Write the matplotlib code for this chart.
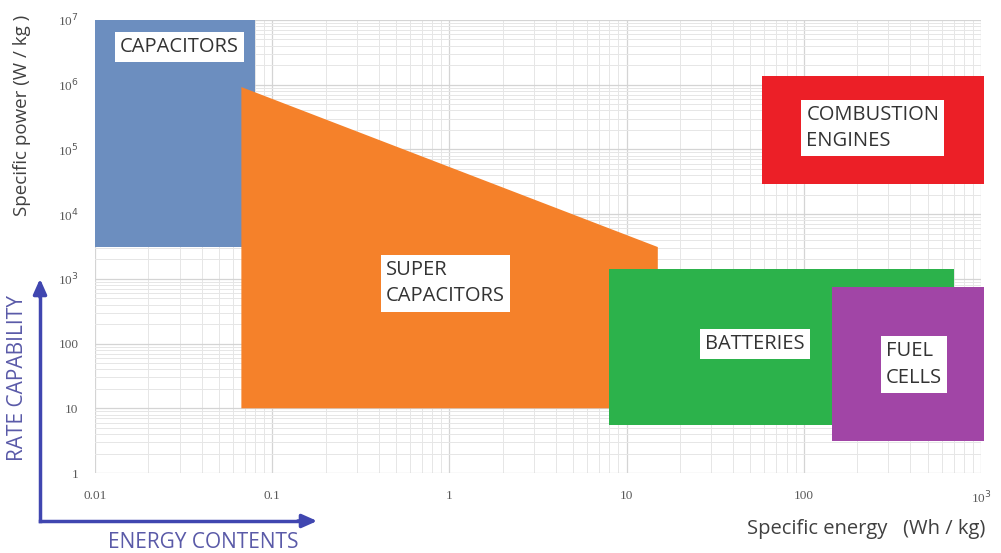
import matplotlib.pyplot as plt
from matplotlib.patches import Polygon, Rectangle

# Ragone-type chart: energy (Wh/kg) vs power (W/kg) regions
names = ["CAPACITORS", "SUPER\nCAPACITORS", "BATTERIES", "FUEL\nCELLS", "COMBUSTION\nENGINES"]
colors = ["#6c8ebf", "#f5812a", "#2cb24b", "#a145a6", "#ec1f27"]

# rectangles: (x0, x1, y0, y1)
capacitors = (0.01, 0.08, 3.1e3, 1e7)
batteries = (8, 700, 5.5, 1.4e3)
fuel_cells = (145, 1040, 3.1, 750)
combustion = (58, 1040, 2.9e4, 1.36e6)
# super capacitors polygon corners (energy, power)
super_x = [0.067, 0.067, 15, 15]
super_y = [10, 9.2e5, 3.1e3, 10]

x_ticks = [0.01, 0.1, 1, 10, 100, 1000]
x_labels = ["0.01", "0.1", "1", "10", "100", "10$^3$"]
y_ticks = [1, 10, 100, 1e3, 1e4, 1e5, 1e6, 1e7]
y_labels = ["1", "10", "100", "10$^3$", "10$^4$", "10$^5$", "10$^6$", "10$^7$"]

fig = plt.figure(figsize=(10.01, 5.53), dpi=100)
ax = fig.add_axes([95 / 1001, 80 / 553, 886 / 1001, 453 / 553])
ax.set_xscale("log")
ax.set_yscale("log")
ax.set_xlim(0.01, 1000)
ax.set_ylim(1, 1e7)
ax.grid(True, which="major", color="#d4d4d4", lw=0.9)
ax.grid(True, which="minor", color="#e6e6e6", lw=0.7)
ax.set_axisbelow(True)
for s in ax.spines.values():
    s.set_visible(False)
ax.tick_params(which="both", length=0, colors="#595959", labelsize=9.5, pad=12)
ax.set_xticks(x_ticks)
ax.set_xticklabels(x_labels, family="Liberation Serif")
ax.set_yticks(y_ticks)
ax.set_yticklabels(y_labels, family="Liberation Serif")


def rect(r, c):
    x0, x1, y0, y1 = r
    ax.add_patch(Rectangle((x0, y0), x1 - x0, y1 - y0, color=c, lw=0, clip_on=False))


rect(capacitors, colors[0])
ax.add_patch(Polygon(list(zip(super_x, super_y)), closed=True, color=colors[1], lw=0))
rect(batteries, colors[2])
rect(fuel_cells, colors[3])
rect(combustion, colors[4])

box = dict(facecolor="white", edgecolor="none", boxstyle="square,pad=0.25")
txt = dict(color="#333333", fontsize=14.5, family="Open Sans", ha="center", va="center",
           multialignment="left", bbox=box, linespacing=1.45)
label_pos = [(0.03, 3.8e6), (0.95, 860), (53, 100), (420, 48), (245, 2.15e5)]
for n, (x, y) in zip(names, label_pos):
    ax.text(x, y, n, **txt)

fig.text(22 / 1001, 1 - 115 / 553, "Specific power (W / kg )", rotation=90, ha="center",
         va="center", fontsize=13.5, color="#404040", family="Open Sans")
fig.text(985 / 1001, 1 - 529 / 553, "Specific energy   (Wh / kg)", ha="right", va="center",
         fontsize=14.5, color="#404040", family="Open Sans")

# blue arrows in the corner
blue = "#4046b0"
fig.add_artist(plt.Line2D([40 / 1001, 40 / 1001], [1 - 521 / 553, 1 - 290 / 553], color=blue, lw=2.5))
fig.add_artist(plt.Line2D([40 / 1001, 305 / 1001], [1 - 521 / 553, 1 - 521 / 553], color=blue, lw=2.5))
ax.annotate("", xy=(40 / 1001, 1 - 276 / 553), xytext=(40 / 1001, 1 - 300 / 553),
            xycoords="figure fraction",
            arrowprops=dict(arrowstyle="-|>,head_length=0.9,head_width=0.4", color=blue, lw=2.5))
ax.annotate("", xy=(320 / 1001, 1 - 521 / 553), xytext=(295 / 1001, 1 - 521 / 553),
            xycoords="figure fraction",
            arrowprops=dict(arrowstyle="-|>,head_length=0.9,head_width=0.4", color=blue, lw=2.5))
fig.text(18 / 1001, 1 - 378 / 553, "RATE CAPABILITY", rotation=90, ha="center", va="center",
         fontsize=15, color="#5a5aa8", family="Open Sans")
fig.text(203 / 1001, 1 - 542 / 553, "ENERGY CONTENTS", ha="center", va="center",
         fontsize=15, color="#5a5aa8", family="Open Sans")

fig.savefig("out.png", dpi=100)
